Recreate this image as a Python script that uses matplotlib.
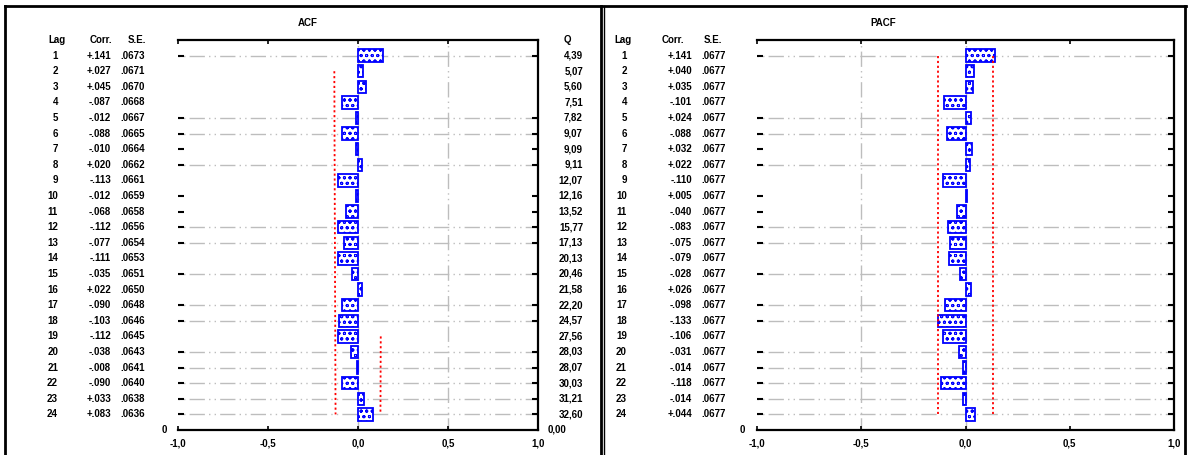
import numpy as np
import matplotlib
matplotlib.use("Agg")
import matplotlib.pyplot as plt
import matplotlib.transforms as mtransforms
from matplotlib.lines import Line2D

# ---------------- data ----------------
lags = list(range(1, 25))

acf_title = "ACF"
pacf_title = "PACF"
col_headers = ["Lag", "Corr.", "S.E."]
q_header = "Q"

acf_corr = [0.141, 0.027, 0.045, -0.087, -0.012, -0.088, -0.010, 0.020,
            -0.113, -0.012, -0.068, -0.112, -0.077, -0.111, -0.035, 0.022,
            -0.090, -0.103, -0.112, -0.038, -0.008, -0.090, 0.033, 0.083]
acf_se = [.0673, .0671, .0670, .0668, .0667, .0665, .0664, .0662, .0661, .0659,
          .0658, .0656, .0654, .0653, .0651, .0650, .0648, .0646, .0645, .0643,
          .0641, .0640, .0638, .0636]
acf_q = ["4,39", "5,07", "5,60", "7,51", "7,82", "9,07", "9,09", "9,11",
         "12,07", "12,16", "13,52", "15,77", "17,13", "20,13", "20,46", "21,58",
         "22,20", "24,57", "27,56", "28,03", "28,07", "30,03", "31,21", "32,60"]
acf_bottom_left = "0"
acf_bottom_right = "0,00"

pacf_corr = [0.141, 0.040, 0.035, -0.101, 0.024, -0.088, 0.032, 0.022,
             -0.110, 0.005, -0.040, -0.083, -0.075, -0.079, -0.028, 0.026,
             -0.098, -0.133, -0.106, -0.031, -0.014, -0.118, -0.014, 0.044]
pacf_se = [.0677] * 24
pacf_bottom_left = "0"

# lags where the plotted confidence limits are visible
acf_lower_lags = list(range(2, 25))
acf_upper_lags = list(range(19, 25))
pacf_lower_lags = list(range(1, 25))
pacf_upper_lags = list(range(1, 25))

grid_lags = [1, 5, 6, 8, 12, 13, 15, 17, 18, 20, 21, 22, 23, 24]
tick_lags = [1, 5, 6, 7, 8, 10, 11, 12, 13, 15, 17, 18, 20, 21, 22, 23, 24]
acf_vgrid = [0, 0.5]
pacf_vgrid = [-0.5, 0]
x_ticks = [-1, -0.5, 0, 0.5, 1]
x_tick_labels = ["-1,0", "-0,5", "0,0", "0,5", "1,0"]

# ---------------- style ----------------
W, H = 1189, 455
plt.rcParams["font.family"] = ["Liberation Sans", "DejaVu Sans"]
plt.rcParams["hatch.color"] = "#0000ff"
plt.rcParams["hatch.linewidth"] = 0.7
FS = 7
FW = "bold"
BLUE = "#0000ff"
RED = "#ff0000"
GRID = "#bdbdbd"

fig = plt.figure(figsize=(W / 100, H / 100), dpi=100)
fig.patch.set_facecolor("white")


def fx(px):
    return px / W


def fy(py):
    return 1 - py / H


def fmt_corr(v):
    s = f"{v:+.3f}"
    return s.replace("0.", ".", 1)


def fmt_se(v):
    return f"{v:.4f}".replace("0.", ".", 1)


def panel(ax_left_px, ax_right_px, corr, se, lower_lags, upper_lags, vgrid,
          title, title_px, col_x, bottom_left, bottom_left_x, q=None,
          q_x=None, bottom_right=None):
    ax = fig.add_axes([fx(ax_left_px), fy(430), fx(ax_right_px - ax_left_px),
                       (430 - 40) / H])
    ax.set_xlim(-1, 1)
    ax.set_ylim(25, 0)
    for s in ["top", "right", "bottom"]:
        ax.spines[s].set_linewidth(1.6)
    ax.spines["left"].set_visible(False)

    ax.set_xticks(x_ticks)
    ax.set_xticklabels(x_tick_labels, fontsize=FS, fontweight=FW)
    ax.tick_params(axis="x", direction="in", top=True, bottom=True,
                   length=3, width=1.2, pad=6)
    ax.set_yticks(tick_lags)
    ax.set_yticklabels([])
    ax.tick_params(axis="y", direction="in", left=True, right=True,
                   length=4, width=1.5)

    # grid lines
    for g in grid_lags:
        ax.plot([-1, 1], [g, g], color=GRID, lw=1.0,
                linestyle=(0, (1, 3, 1, 3, 11, 3)), zorder=1)
    for xv in vgrid:
        ax.plot([xv, xv], [0, 25], color=GRID, lw=1.0,
                linestyle=(0, (1, 3, 1, 3, 11, 3)), zorder=1)

    # bars
    ax.barh(lags, corr, height=0.8, left=0, color="white", edgecolor=BLUE,
            hatch="ooo", linewidth=1.3, zorder=3)

    # confidence limits
    se_arr = np.array(se)
    lo = [-1.96 * se_arr[k - 1] for k in lower_lags]
    up = [1.96 * se_arr[k - 1] for k in upper_lags]
    ax.plot(lo, lower_lags, color=RED, lw=1.3, linestyle=(0, (1.2, 1.5)), zorder=4)
    ax.plot(up, upper_lags, color=RED, lw=1.3, linestyle=(0, (1.2, 1.5)), zorder=4)

    # text columns
    tr = mtransforms.blended_transform_factory(fig.transFigure, ax.transData)
    kw = dict(fontsize=FS, fontweight=FW, va="center", transform=tr,
              clip_on=False)
    lag_x, corr_x, se_x, h_lag, h_corr, h_se = col_x
    ax.text(fx(h_lag), 0, col_headers[0], ha="left", **kw)
    ax.text(fx(h_corr), 0, col_headers[1], ha="left", **kw)
    ax.text(fx(h_se), 0, col_headers[2], ha="left", **kw)
    for i, k in enumerate(lags):
        ax.text(fx(lag_x), k, str(k), ha="right", **kw)
        ax.text(fx(corr_x), k, fmt_corr(corr[i]), ha="right", **kw)
        ax.text(fx(se_x), k, fmt_se(se[i]), ha="right", **kw)
    ax.text(fx(bottom_left_x), 25, bottom_left, ha="right", **kw)
    if q is not None:
        ax.text(fx(q_x - 16), 0, q_header, ha="center", **kw)
        for i, k in enumerate(lags):
            ax.text(fx(q_x), k, q[i], ha="right", **kw)
        ax.text(fx(q_x - 35), 25, bottom_right, ha="left", **kw)

    fig.text(fx(title_px), fy(23), title, ha="center", va="center",
             fontsize=FS, fontweight=FW)
    return ax


panel(178, 538, acf_corr, acf_se, acf_lower_lags, acf_upper_lags, acf_vgrid,
      acf_title, 308, (58, 111, 145, 48, 90, 128), acf_bottom_left, 167,
      q=acf_q, q_x=583, bottom_right=acf_bottom_right)
panel(757, 1174, pacf_corr, pacf_se, pacf_lower_lags, pacf_upper_lags,
      pacf_vgrid, pacf_title, 883, (627, 692, 726, 614, 662, 704),
      pacf_bottom_left, 745)

# outer frames
frame_kw = dict(color="black", transform=fig.transFigure)
fig.add_artist(Line2D([fx(5), fx(1186)], [fy(6), fy(6)], lw=2.0, **frame_kw))
fig.add_artist(Line2D([fx(5), fx(5)], [fy(6), 0], lw=2.0, **frame_kw))
fig.add_artist(Line2D([fx(601), fx(601)], [fy(6), 0], lw=2.0, **frame_kw))
fig.add_artist(Line2D([fx(604), fx(604)], [fy(6), 0], lw=1.0, **frame_kw))
fig.add_artist(Line2D([fx(1185), fx(1185)], [fy(6), 0], lw=2.0, **frame_kw))

fig.savefig("out.png", dpi=100, facecolor="white")
